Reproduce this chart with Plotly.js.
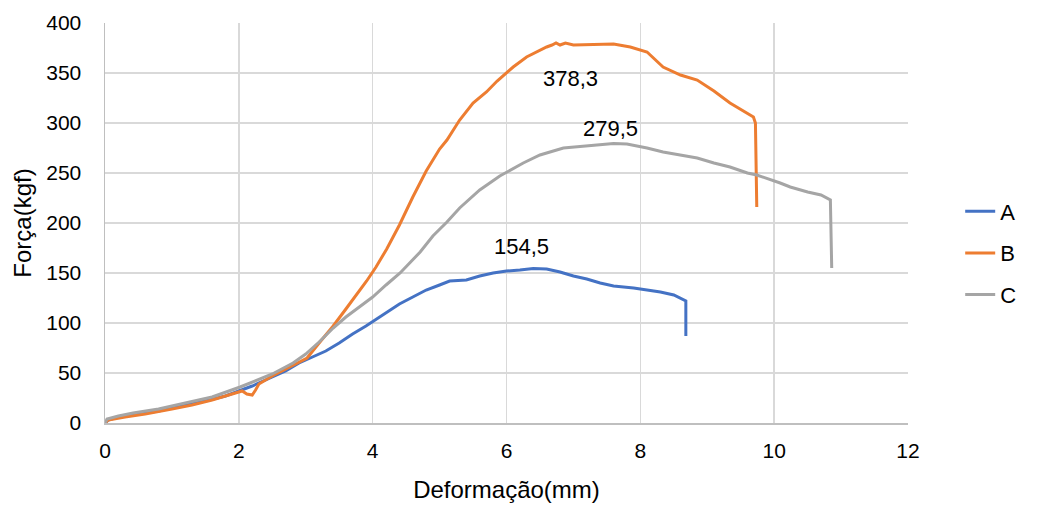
<!DOCTYPE html>
<html>
<head>
<meta charset="utf-8">
<script src="https://cdn.plot.ly/plotly-3.0.1.min.js"></script>
<style>html,body{margin:0;padding:0;background:#fff}#chart{width:1042px;height:506px}</style>
</head>
<body>
<div id="chart"></div>
<script>
const seriesNames = ["A", "B", "C"];
const xA = [0,0.05,0.2,0.5,0.8,1,1.3,1.5,1.8,2,2.2,2.5,2.7,2.9,3.1,3.3,3.5,3.7,3.9,4.1,4.2,4.4,4.6,4.8,5,5.15,5.4,5.6,5.8,6,6.2,6.4,6.6,6.8,7,7.2,7.4,7.6,7.9,8.1,8.3,8.5,8.68,8.68];
const yA = [0,3,6,9,12,15,19,22,27,32,37,46,52,60,66,72,80,89,97,106,110,119,126,133,138,142,143,147,150,152,153,154.5,154,151,147,144,140,137,135,133,131,128,122,87];
const xB = [0,0.05,0.3,0.6,1,1.3,1.6,1.9,2.05,2.12,2.2,2.25,2.3,2.5,2.7,2.9,3.02,3.2,3.41,3.6,3.8,3.91,4.05,4.21,4.4,4.6,4.8,5.0,5.11,5.3,5.5,5.7,5.86,6.1,6.3,6.5,6.6,6.68,6.74,6.8,6.88,7.0,7.2,7.35,7.6,7.85,8.1,8.34,8.6,8.85,9.1,9.34,9.55,9.69,9.72,9.74];
const yB = [0,3,6,9,14,18,23,29,32,29,28,33,39,47,54,61,65,80,97,114,132,142,156,174,198,226,252,274,283,303,320,331,342,356,366,373,376,378,380,378,380,378,378.3,379,379,376,371,356,348,343,332,320,312,306,300,216];
const xC = [0,0.03,0.2,0.42,0.8,1,1.3,1.6,2.02,2.3,2.5,2.81,3.0,3.2,3.41,3.6,3.8,4.0,4.2,4.41,4.71,4.9,5.11,5.3,5.6,5.9,6.25,6.5,6.85,7.2,7.6,7.8,8.1,8.34,8.6,8.85,9.1,9.34,9.6,9.74,10.09,10.24,10.5,10.7,10.84,10.86];
const yC = [0,4,7,10,14,17,21,26,36,44,49,60,69,81,95,106,116,126,138,150,171,187,201,215,233,247,260,268,275,277,279.5,279,275,271,268,265,260,256,250,248,240,236,231,228,223,155];
const colors = ["#4472C4", "#ED7D31", "#A5A5A5"];
const peakLabels = ["154,5", "378,3", "279,5"];
const labelX = [6.23, 6.95, 7.55];
const labelY = [177, 345, 295];

const xs = [xA, xB, xC], ys = [yA, yB, yC];
const traces = seriesNames.map((n, i) => ({
  x: xs[i], y: ys[i], type: 'scatter', mode: 'lines', name: n,
  legendgroup: n,
  line: {color: colors[i], width: 3}
}));

const fam = '"Liberation Sans", Arial, sans-serif';
const layout = {
  width: 1042, height: 506,
  margin: {l: 105, r: 134, t: 23, b: 83},
  paper_bgcolor: '#fff', plot_bgcolor: '#fff',
  font: {family: fam, size: 21, color: '#000'},
  showlegend: true,
  legend: {x: 1.065, y: 0.425, yanchor: 'middle', xanchor: 'left', traceorder: 'grouped', tracegroupgap: 10, font: {family: fam, size: 22, color: '#000'}},
  xaxis: {
    range: [0, 12], dtick: 2, tick0: 0, showgrid: true, gridcolor: '#d9d9d9', gridwidth: 1.5,
    zeroline: false, showline: true, linecolor: '#bfbfbf', linewidth: 1.5, ticks: '',
    ticklabelstandoff: 8, tickfont: {family: fam, size: 21, color: '#000'},
    title: {text: 'Deformação(mm)', font: {family: fam, size: 24, color: '#000'}, standoff: 20}
  },
  yaxis: {
    range: [0, 400], dtick: 50, tick0: 0, showgrid: true, gridcolor: '#d9d9d9', gridwidth: 1.5,
    zeroline: false, showline: true, linecolor: '#bfbfbf', linewidth: 1.5, ticks: '',
    ticklabelstandoff: 18, tickfont: {family: fam, size: 21, color: '#000'},
    title: {text: 'Força(kgf)', font: {family: fam, size: 24, color: '#000'}, standoff: 8}
  },
  annotations: peakLabels.map((t, i) => ({
    x: labelX[i], y: labelY[i], xref: 'x', yref: 'y', text: t, showarrow: false,
    font: {family: fam, size: 22, color: '#000'}
  }))
};
Plotly.newPlot('chart', traces, layout, {displayModeBar: false, staticPlot: true});
</script>
</body>
</html>
